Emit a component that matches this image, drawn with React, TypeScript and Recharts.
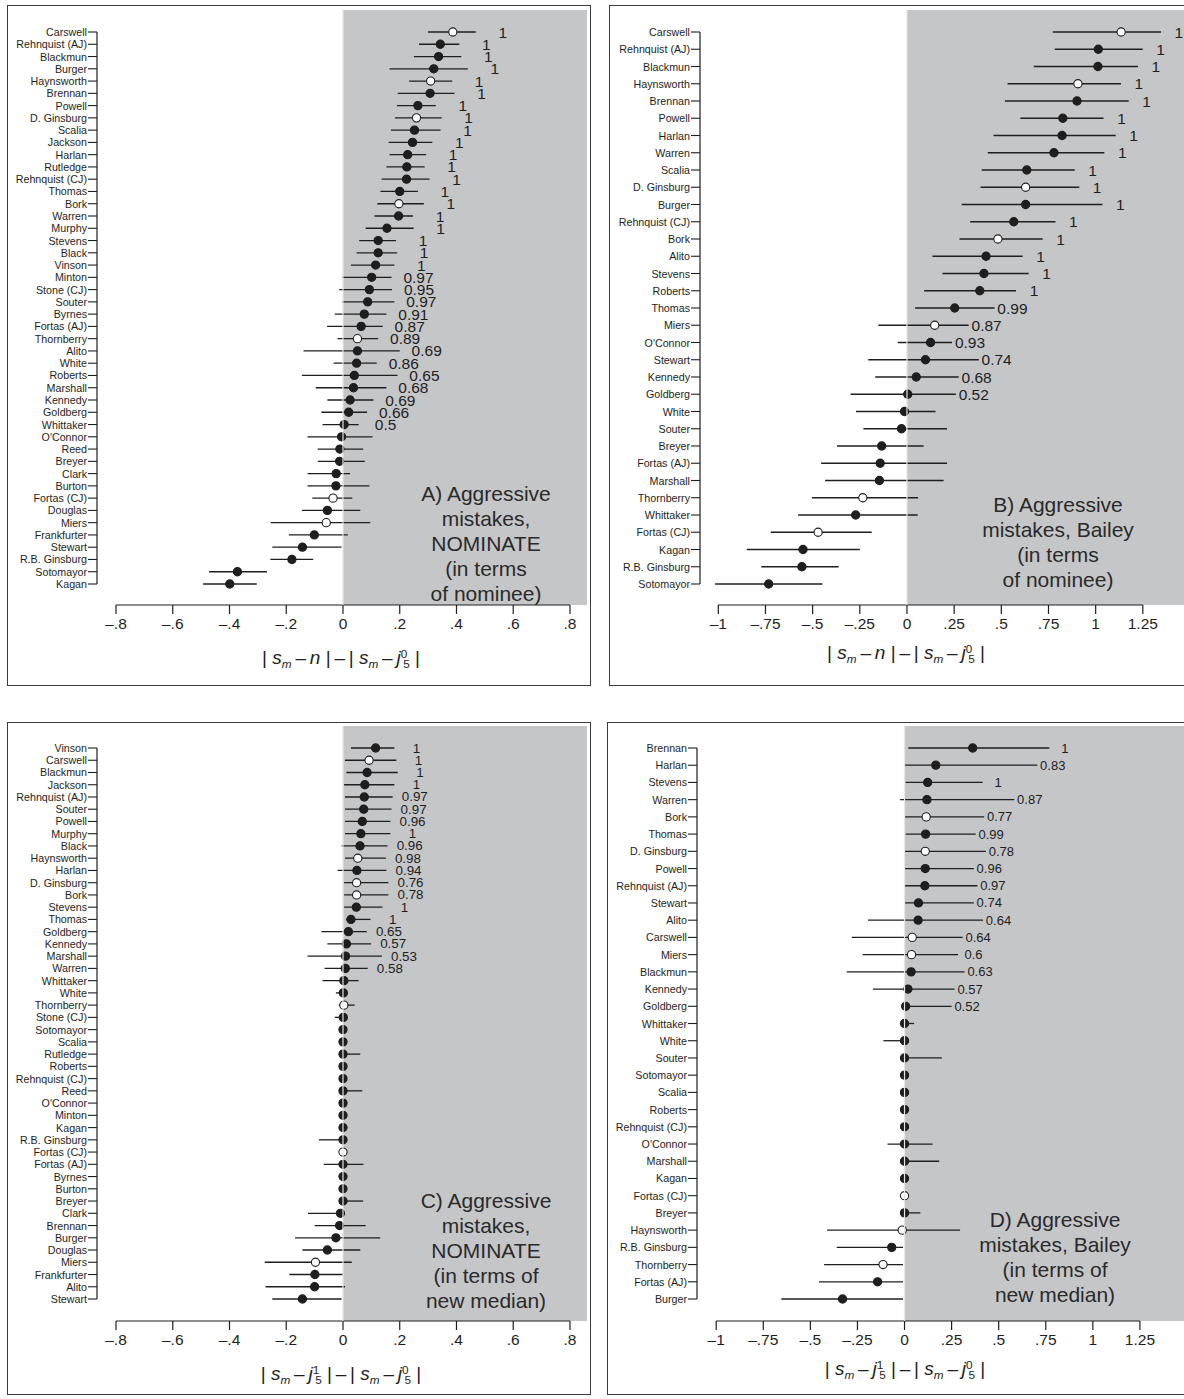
import React from 'react';
import {
  ErrorBar,
  ReferenceArea,
  ReferenceLine,
  Scatter,
  ScatterChart,
  XAxis,
  YAxis,
} from 'recharts';

// nominees who were not confirmed are drawn with open circles
const openNominees = ['Carswell', 'Haynsworth', 'D. Ginsburg', 'Bork', 'Thornberry', 'Fortas (CJ)', 'Miers'];

// A) NOMINATE, in terms of nominee
const aNames = [
  'Carswell', 'Rehnquist (AJ)', 'Blackmun', 'Burger', 'Haynsworth', 'Brennan', 'Powell', 'D. Ginsburg',
  'Scalia', 'Jackson', 'Harlan', 'Rutledge', 'Rehnquist (CJ)', 'Thomas', 'Bork', 'Warren', 'Murphy',
  'Stevens', 'Black', 'Vinson', 'Minton', 'Stone (CJ)', 'Souter', 'Byrnes', 'Fortas (AJ)', 'Thornberry',
  'Alito', 'White', 'Roberts', 'Marshall', 'Kennedy', 'Goldberg', 'Whittaker', "O'Connor", 'Reed',
  'Breyer', 'Clark', 'Burton', 'Fortas (CJ)', 'Douglas', 'Miers', 'Frankfurter', 'Stewart',
  'R.B. Ginsburg', 'Sotomayor', 'Kagan',
];
const aEst = [
  0.387, 0.343, 0.337, 0.32, 0.309, 0.307, 0.264, 0.259, 0.252, 0.245, 0.228, 0.225, 0.224, 0.2, 0.197,
  0.196, 0.155, 0.124, 0.124, 0.115, 0.101, 0.093, 0.087, 0.075, 0.064, 0.051, 0.051, 0.048, 0.04, 0.037,
  0.025, 0.02, 0.004, -0.005, -0.011, -0.012, -0.024, -0.025, -0.035, -0.055, -0.059, -0.101, -0.143,
  -0.18, -0.372, -0.399,
];
const aLo = [
  0.3, 0.268, 0.25, 0.164, 0.233, 0.193, 0.19, 0.183, 0.169, 0.161, 0.164, 0.153, 0.136, 0.132, 0.121,
  0.111, 0.08, 0.057, 0.048, 0.028, -0.003, -0.013, -0.003, -0.029, -0.056, -0.019, -0.139, -0.033,
  -0.145, -0.096, -0.055, -0.076, -0.072, -0.125, -0.089, -0.089, -0.125, -0.125, -0.108, -0.144, -0.255,
  -0.191, -0.249, -0.256, -0.472, -0.493,
];
const aHi = [
  0.468, 0.41, 0.417, 0.44, 0.385, 0.393, 0.327, 0.348, 0.344, 0.315, 0.293, 0.288, 0.305, 0.264, 0.285,
  0.247, 0.249, 0.187, 0.191, 0.181, 0.171, 0.173, 0.181, 0.153, 0.14, 0.124, 0.2, 0.119, 0.192, 0.153,
  0.107, 0.085, 0.055, 0.104, 0.071, 0.077, 0.025, 0.093, 0.033, 0.061, 0.096, 0.017, -0.005, -0.105,
  -0.268, -0.304,
];
const aLabels = [
  '1', '1', '1', '1', '1', '1', '1', '1', '1', '1', '1', '1', '1', '1', '1', '1', '1', '1', '1', '1',
  '0.97', '0.95', '0.97', '0.91', '0.87', '0.89', '0.69', '0.86', '0.65', '0.68', '0.69', '0.66', '0.5',
  '', '', '', '', '', '', '', '', '', '', '', '', '',
];

// B) Bailey, in terms of nominee
const bNames = [
  'Carswell', 'Rehnquist (AJ)', 'Blackmun', 'Haynsworth', 'Brennan', 'Powell', 'Harlan', 'Warren', 'Scalia',
  'D. Ginsburg', 'Burger', 'Rehnquist (CJ)', 'Bork', 'Alito', 'Stevens', 'Roberts', 'Thomas', 'Miers',
  "O'Connor", 'Stewart', 'Kennedy', 'Goldberg', 'White', 'Souter', 'Breyer', 'Fortas (AJ)', 'Marshall',
  'Thornberry', 'Whittaker', 'Fortas (CJ)', 'Kagan', 'R.B. Ginsburg', 'Sotomayor',
];
const bEst = [
  1.135, 1.014, 1.012, 0.906, 0.901, 0.826, 0.822, 0.779, 0.635, 0.629, 0.629, 0.566, 0.482, 0.419, 0.408,
  0.386, 0.253, 0.147, 0.125, 0.098, 0.049, 0.004, -0.013, -0.029, -0.134, -0.142, -0.146, -0.234, -0.272,
  -0.471, -0.551, -0.557, -0.733,
];
const bLo = [
  0.773, 0.783, 0.672, 0.533, 0.519, 0.601, 0.459, 0.428, 0.396, 0.39, 0.29, 0.335, 0.278, 0.135, 0.188,
  0.091, 0.043, -0.152, -0.049, -0.205, -0.168, -0.299, -0.27, -0.231, -0.371, -0.455, -0.434, -0.504,
  -0.577, -0.722, -0.849, -0.772, -1.017,
];
const bHi = [
  1.346, 1.249, 1.224, 1.134, 1.175, 1.042, 1.106, 1.046, 0.889, 0.913, 1.036, 0.787, 0.719, 0.613, 0.645,
  0.578, 0.464, 0.327, 0.239, 0.38, 0.274, 0.259, 0.151, 0.212, 0.088, 0.212, 0.194, 0.059, 0.057, -0.187,
  -0.25, -0.362, -0.448,
];
const bLabels = [
  '1', '1', '1', '1', '1', '1', '1', '1', '1', '1', '1', '1', '1', '1', '1', '1',
  '0.99', '0.87', '0.93', '0.74', '0.68', '0.52', '', '', '', '', '', '', '', '', '', '', '',
];

// C) NOMINATE, in terms of new median
const cNames = [
  'Vinson', 'Carswell', 'Blackmun', 'Jackson', 'Rehnquist (AJ)', 'Souter', 'Powell', 'Murphy', 'Black',
  'Haynsworth', 'Harlan', 'D. Ginsburg', 'Bork', 'Stevens', 'Thomas', 'Goldberg', 'Kennedy', 'Marshall',
  'Warren', 'Whittaker', 'White', 'Thornberry', 'Stone (CJ)', 'Sotomayor', 'Scalia', 'Rutledge', 'Roberts',
  'Rehnquist (CJ)', 'Reed', "O'Connor", 'Minton', 'Kagan', 'R.B. Ginsburg', 'Fortas (CJ)', 'Fortas (AJ)',
  'Byrnes', 'Burton', 'Breyer', 'Clark', 'Brennan', 'Burger', 'Douglas', 'Miers', 'Frankfurter', 'Alito',
  'Stewart',
];
const cEst = [
  0.115, 0.092, 0.085, 0.077, 0.075, 0.073, 0.068, 0.063, 0.06, 0.052, 0.049, 0.048, 0.048, 0.047, 0.028,
  0.019, 0.012, 0.009, 0.008, 0.003, 0.001, 0.003, 0.001, 0, 0, 0, 0, 0, 0, 0, 0, 0, 0, 0, 0, 0, 0, 0,
  -0.009, -0.012, -0.025, -0.055, -0.097, -0.099, -0.1, -0.143,
];
const cLo = [
  0.028, 0.007, 0.012, 0.004, 0.007, 0.007, 0.007, 0.007, -0.005, 0.007, -0.019, 0.004, 0.004, 0.004,
  0.011, -0.076, -0.055, -0.125, -0.065, -0.072, -0.025, -0.015, -0.029, 0, 0, 0, 0, 0, 0, 0, 0, 0,
  -0.085, 0, -0.068, 0, 0, 0, -0.123, -0.1, -0.169, -0.143, -0.276, -0.189, -0.273, -0.249,
];
const cHi = [
  0.181, 0.188, 0.193, 0.181, 0.175, 0.171, 0.167, 0.167, 0.157, 0.151, 0.153, 0.16, 0.16, 0.139, 0.097,
  0.084, 0.099, 0.137, 0.087, 0.055, 0.015, 0.041, 0.007, 0, 0, 0.061, 0, 0, 0.068, 0, 0, 0, 0, 0, 0.072,
  0, 0, 0.071, 0.004, 0.08, 0.131, 0.061, 0.031, 0, 0.007, -0.005,
];
const cLabels = [
  '1', '1', '1', '1', '0.97', '0.97', '0.96', '1', '0.96', '0.98', '0.94', '0.76', '0.78', '1', '1',
  '0.65', '0.57', '0.53', '0.58', '', '', '', '', '', '', '', '', '', '', '', '', '', '', '', '', '', '',
  '', '', '', '', '', '', '', '', '',
];

// D) Bailey, in terms of new median
const dNames = [
  'Brennan', 'Harlan', 'Stevens', 'Warren', 'Bork', 'Thomas', 'D. Ginsburg', 'Powell', 'Rehnquist (AJ)',
  'Stewart', 'Alito', 'Carswell', 'Miers', 'Blackmun', 'Kennedy', 'Goldberg', 'Whittaker', 'White', 'Souter',
  'Sotomayor', 'Scalia', 'Roberts', 'Rehnquist (CJ)', "O'Connor", 'Marshall', 'Kagan', 'Fortas (CJ)',
  'Breyer', 'Haynsworth', 'R.B. Ginsburg', 'Thornberry', 'Fortas (AJ)', 'Burger',
];
const dEst = [
  0.362, 0.166, 0.123, 0.119, 0.115, 0.112, 0.11, 0.11, 0.108, 0.074, 0.072, 0.041, 0.037, 0.035, 0.018,
  0.006, 0, 0, 0, 0, 0, 0, 0, 0, 0, 0, 0, 0, -0.012, -0.068, -0.114, -0.143, -0.329,
];
const dLo = [
  0.02, 0, 0.006, -0.023, 0, 0.006, 0, 0, 0, 0, -0.194, -0.28, -0.223, -0.307, -0.168, 0, 0, -0.112, 0, 0,
  0, 0, 0, -0.09, 0, 0, 0, 0, -0.411, -0.36, -0.427, -0.454, -0.654,
];
const dHi = [
  0.769, 0.705, 0.415, 0.583, 0.423, 0.378, 0.432, 0.368, 0.387, 0.368, 0.417, 0.309, 0.284, 0.319, 0.266,
  0.25, 0.051, 0, 0.198, 0, 0, 0, 0, 0.149, 0.184, 0, 0, 0.084, 0.295, -0.008, -0.008, -0.008, -0.008,
];
const dLabels = [
  '1', '0.83', '1', '0.87', '0.77', '0.99', '0.78', '0.96', '0.97', '0.74', '0.64', '0.64', '0.6', '0.63',
  '0.57', '0.52', '', '', '', '', '', '', '', '', '', '', '', '', '', '', '', '', '',
];

const nomTicks = [-0.8, -0.6, -0.4, -0.2, 0, 0.2, 0.4, 0.6, 0.8];
const nomTickLabels = ['–.8', '–.6', '–.4', '–.2', '0', '.2', '.4', '.6', '.8'];
const baileyTicks = [-1, -0.75, -0.5, -0.25, 0, 0.25, 0.5, 0.75, 1, 1.25];
const baileyTickLabels = ['–1', '–.75', '–.5', '–.25', '0', '.25', '.5', '.75', '1', '1.25'];

const FONT = '"Liberation Sans", Arial, Helvetica, sans-serif';
const INK = '#1e1e1e';
const GRAY = '#c5c6c8';
const Y_W = 95;
const X_H = 40;
const R_PAD = 10;

type PanelProps = {
  names: string[];
  est: number[];
  lo: number[];
  hi: number[];
  labels: string[];
  domain: [number, number];
  ticks: number[];
  tickLabels: string[];
  plotLeft: number;
  plotRight: number;
  plotTop: number;
  plotBottom: number;
  firstRowY: number;
  lastRowY: number;
  labelOffset: number;
  labelSize: number;
};

const Dot = (props: any) => {
  const { cx, cy, payload } = props;
  return <circle cx={cx} cy={cy} r={4.1} fill={payload.open ? '#fff' : INK} stroke={INK} strokeWidth={1.1} />;
};

function Panel(p: PanelProps) {
  const n = p.names.length;
  const step = (p.lastRowY - p.firstRowY) / (n - 1);
  const yDomain: [number, number] = [
    -(p.firstRowY - p.plotTop) / step,
    n - 1 + (p.plotBottom - p.lastRowY) / step,
  ];
  const points = p.names.map((name, i) => ({
    x: p.est[i],
    y: i,
    err: [p.est[i] - p.lo[i], p.hi[i] - p.est[i]],
    open: openNominees.includes(name),
  }));
  const labelPoints = p.labels
    .map((text, i) => ({ x: p.hi[i] + p.labelOffset, y: i, text }))
    .filter((d) => d.text !== '');
  const width = p.plotRight - p.plotLeft + Y_W + R_PAD;
  const height = p.plotBottom - p.plotTop + X_H;
  const lastTick = p.ticks[p.ticks.length - 1];

  const nameTick = (t: any) => (
    <text
      x={t.x}
      y={t.y}
      textAnchor="end"
      dominantBaseline="central"
      fontSize={10.7}
      fontFamily={FONT}
      fill={INK}
    >
      {p.names[t.payload.value]}
    </text>
  );

  return (
    <div style={{ position: 'absolute', left: p.plotLeft - Y_W, top: p.plotTop }}>
      <ScatterChart width={width} height={height} margin={{ top: 0, right: R_PAD, bottom: 0, left: 0 }}>
        <XAxis
          type="number"
          dataKey="x"
          domain={p.domain}
          allowDataOverflow
          ticks={p.ticks}
          interval={0}
          tickFormatter={(v: number) => p.tickLabels[p.ticks.findIndex((t) => Math.abs(t - v) < 1e-9)]}
          axisLine={false}
          tickSize={9}
          tickMargin={4}
          height={X_H}
          tick={{ fontSize: 15.5, fill: INK, fontFamily: FONT }}
          tickLine={{ stroke: INK, strokeWidth: 1.2 }}
        />
        <YAxis
          type="number"
          dataKey="y"
          domain={yDomain}
          reversed
          allowDataOverflow
          ticks={p.names.map((_, i) => i)}
          interval={0}
          axisLine={false}
          tickSize={9}
          tickMargin={1}
          width={Y_W}
          tick={nameTick}
          tickLine={{ stroke: INK, strokeWidth: 1.1 }}
        />
        <ReferenceArea
          x1={0}
          x2={p.domain[1]}
          y1={yDomain[0]}
          y2={yDomain[1]}
          fill={GRAY}
          fillOpacity={1}
          stroke="none"
          ifOverflow="visible"
        />
        <ReferenceLine
          segment={[{ x: p.ticks[0], y: yDomain[1] }, { x: lastTick, y: yDomain[1] }]}
          stroke={INK}
          strokeWidth={1.2}
          ifOverflow="visible"
        />
        <ReferenceLine
          segment={[{ x: p.domain[0], y: 0 }, { x: p.domain[0], y: n - 1 }]}
          stroke={INK}
          strokeWidth={1.2}
          ifOverflow="visible"
        />
        <Scatter data={points} shape={Dot} isAnimationActive={false}>
          <ErrorBar
            dataKey="err"
            direction="x"
            width={0}
            stroke={INK}
            strokeWidth={1.3}
            isAnimationActive={false}
          />
        </Scatter>
        <Scatter
          data={labelPoints}
          isAnimationActive={false}
          shape={(s: any) => (
            <text
              x={s.cx}
              y={s.cy}
              textAnchor="middle"
              dominantBaseline="central"
              fontSize={p.labelSize}
              fontFamily={FONT}
              fill={INK}
            >
              {s.payload.text}
            </text>
          )}
        />
        <ReferenceLine x={0} stroke="#e6e6e6" strokeWidth={1.2} ifOverflow="visible" zIndex={900} />
      </ScatterChart>
    </div>
  );
}

function Frame({ left, top, width, height }: { left: number; top: number; width: number; height: number }) {
  return (
    <div
      style={{
        position: 'absolute',
        left,
        top,
        width,
        height,
        border: '1.5px solid #3a3a3a',
        boxSizing: 'border-box',
      }}
    />
  );
}

function PanelText({ cx, firstY, lines }: { cx: number; firstY: number; lines: string[] }) {
  return (
    <div
      style={{
        position: 'absolute',
        left: cx - 110,
        width: 220,
        top: firstY - 12.5,
        textAlign: 'center',
        fontFamily: FONT,
        fontSize: 21,
        lineHeight: '25px',
        color: '#2a2a2a',
      }}
    >
      {lines.map((l) => (
        <div key={l}>{l}</div>
      ))}
    </div>
  );
}

const subStyle: React.CSSProperties = { fontSize: '0.62em', verticalAlign: '-0.35em', lineHeight: 0 };
const supStyle: React.CSSProperties = { fontSize: '0.62em', verticalAlign: '0.55em', lineHeight: 0 };

function Jay({ sup }: { sup: string }) {
  return (
    <>
      <i>j</i>
      <span style={supStyle}>{sup}</span>
      <span style={{ ...subStyle, marginLeft: '-0.35em' }}>5</span>
    </>
  );
}

function AxisTitle({ cx, cy, median }: { cx: number; cy: number; median: boolean }) {
  return (
    <div
      style={{
        position: 'absolute',
        left: cx - 150,
        width: 300,
        top: cy - 14,
        textAlign: 'center',
        fontFamily: FONT,
        fontSize: 19,
        lineHeight: '28px',
        color: INK,
        whiteSpace: 'nowrap',
      }}
    >
      |&nbsp;<i>s</i>
      <span style={subStyle}>
        <i>m</i>
      </span>
      &thinsp;–&thinsp;{median ? <Jay sup="1" /> : <i>n</i>}&nbsp;|&thinsp;–&thinsp;|&nbsp;<i>s</i>
      <span style={subStyle}>
        <i>m</i>
      </span>
      &thinsp;–&thinsp;
      <Jay sup="0" />
      &nbsp;|
    </div>
  );
}

export default function App() {
  return (
    <div
      style={{
        position: 'absolute',
        left: 0,
        top: 0,
        width: 1184,
        height: 1399,
        overflow: 'hidden',
        background: '#fff',
      }}
    >
      <Frame left={7} top={5} width={584} height={681} />
      <Frame left={609} top={5} width={584} height={681} />
      <Frame left={7} top={722} width={584} height={673} />
      <Frame left={607} top={722} width={584} height={673} />

      <Panel
        names={aNames}
        est={aEst}
        lo={aLo}
        hi={aHi}
        labels={aLabels}
        domain={[-0.867, 0.86]}
        ticks={nomTicks}
        tickLabels={nomTickLabels}
        plotLeft={97}
        plotRight={587}
        plotTop={10}
        plotBottom={605}
        firstRowY={32}
        lastRowY={584}
        labelOffset={0.095}
        labelSize={15.5}
      />
      <Panel
        names={bNames}
        est={bEst}
        lo={bLo}
        hi={bHi}
        labels={bLabels}
        domain={[-1.097, 1.5]}
        ticks={baileyTicks}
        tickLabels={baileyTickLabels}
        plotLeft={700}
        plotRight={1190}
        plotTop={10}
        plotBottom={605}
        firstRowY={32}
        lastRowY={584}
        labelOffset={0.095}
        labelSize={15.5}
      />
      <Panel
        names={cNames}
        est={cEst}
        lo={cLo}
        hi={cHi}
        labels={cLabels}
        domain={[-0.867, 0.86]}
        ticks={nomTicks}
        tickLabels={nomTickLabels}
        plotLeft={97}
        plotRight={587}
        plotTop={726}
        plotBottom={1321}
        firstRowY={748}
        lastRowY={1299}
        labelOffset={0.078}
        labelSize={13.4}
      />
      <Panel
        names={dNames}
        est={dEst}
        lo={dLo}
        hi={dHi}
        labels={dLabels}
        domain={[-1.102, 1.5]}
        ticks={baileyTicks}
        tickLabels={baileyTickLabels}
        plotLeft={697}
        plotRight={1187}
        plotTop={726}
        plotBottom={1321}
        firstRowY={748}
        lastRowY={1299}
        labelOffset={0.082}
        labelSize={13}
      />

      <PanelText cx={486} firstY={493} lines={['A) Aggressive', 'mistakes,', 'NOMINATE', '(in terms', 'of nominee)']} />
      <PanelText cx={1058} firstY={504} lines={['B) Aggressive', 'mistakes, Bailey', '(in terms', 'of nominee)']} />
      <PanelText cx={486} firstY={1200} lines={['C) Aggressive', 'mistakes,', 'NOMINATE', '(in terms of', 'new median)']} />
      <PanelText cx={1055} firstY={1219} lines={['D) Aggressive', 'mistakes, Bailey', '(in terms of', 'new median)']} />

      <AxisTitle cx={341} cy={658} median={false} />
      <AxisTitle cx={906} cy={653} median={false} />
      <AxisTitle cx={341} cy={1374} median />
      <AxisTitle cx={905} cy={1369} median />
    </div>
  );
}
